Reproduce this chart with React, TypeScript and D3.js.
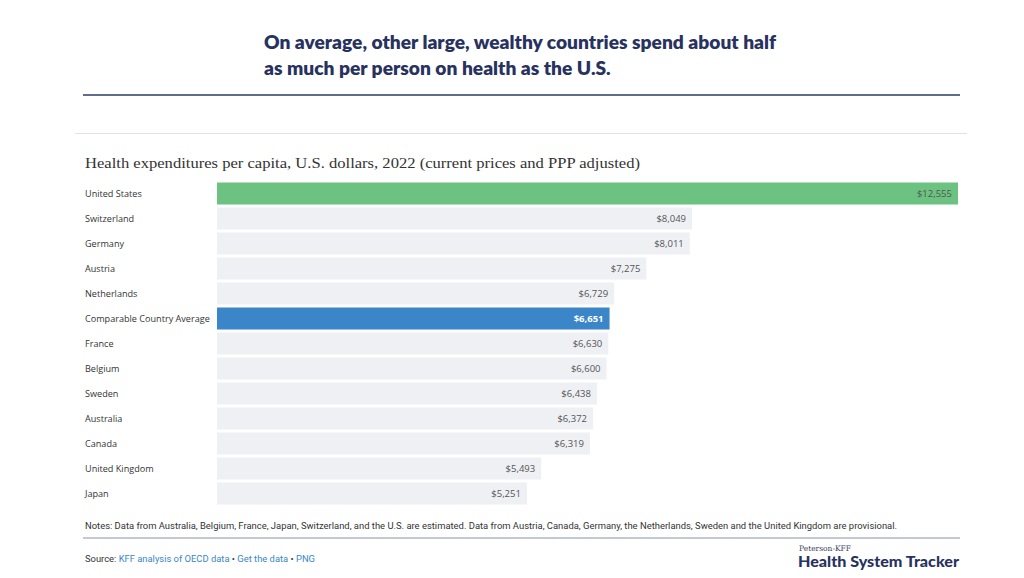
import React from "react";
import * as d3 from "d3";

const countries = [
  "United States",
  "Switzerland",
  "Germany",
  "Austria",
  "Netherlands",
  "Comparable Country Average",
  "France",
  "Belgium",
  "Sweden",
  "Australia",
  "Canada",
  "United Kingdom",
  "Japan",
];
const spending = [12555, 8049, 8011, 7275, 6729, 6651, 6630, 6600, 6438, 6372, 6319, 5493, 5251];

const titleLines = [
  "On average, other large, wealthy countries spend about half",
  "as much per person on health as the U.S.",
];
const subtitle = "Health expenditures per capita, U.S. dollars, 2022 (current prices and PPP adjusted)";
const notes =
  "Notes: Data from Australia, Belgium, France, Japan, Switzerland, and the U.S. are estimated. Data from Austria, Canada, Germany, the Netherlands, Sweden and the United Kingdom are provisional.";

export default function App() {
  const W = 1024;
  const H = 578;
  const x0 = 217;
  const x1 = 958;
  const x = d3.scaleLinear().domain([0, 12555]).range([x0, x1]);
  const y = d3.scaleBand<string>().domain(countries).range([181, 506]).paddingInner(0.12).paddingOuter(0.06);
  const fmt = d3.format("$,");
  const sans = "'Open Sans', 'Noto Sans', sans-serif";

  return (
    <svg width={W} height={H} style={{ position: "absolute", left: 0, top: 0, background: "#fff" }}>
      {titleLines.map((t, i) => (
        <text key={i} x={264} y={49 + i * 26} fontFamily="Lato, 'Open Sans', sans-serif" fontWeight={800} fontSize={19.2} fill="#28325f">
          {t}
        </text>
      ))}
      <line x1={83} x2={960} y1={95} y2={95} stroke="#2b3a67" strokeWidth={1.6} />
      <line x1={75} x2={967} y1={133.5} y2={133.5} stroke="#e2e2e2" strokeWidth={1} />
      <text x={85} y={168} fontFamily="'Liberation Serif', serif" fontSize={15.5} fill="#333" textLength={555} lengthAdjust="spacingAndGlyphs">
        {subtitle}
      </text>
      {countries.map((c, i) => {
        const v = spending[i];
        const yy = y(c)!;
        const bh = y.bandwidth();
        const fill = i === 0 ? "#6cc280" : c === "Comparable Country Average" ? "#3a86c8" : "#eef0f4";
        const isAvg = c === "Comparable Country Average";
        return (
          <g key={c}>
            <text x={85} y={yy + bh / 2} dy="0.35em" fontFamily={sans} fontSize={9.1} fill="#333">
              {c}
            </text>
            <rect x={x0} y={yy} width={x(v) - x0} height={bh} fill={fill} />
            <text
              x={x(v) - 6}
              y={yy + bh / 2}
              dy="0.35em"
              textAnchor="end"
              fontFamily={sans}
              fontSize={9.5}
              fontWeight={isAvg ? 700 : 400}
              fill={isAvg ? "#fff" : "#555"}
            >
              {fmt(v)}
            </text>
          </g>
        );
      })}
      <text x={85} y={529} fontFamily="'Liberation Sans Narrow', 'Roboto', sans-serif" fontSize={9.5} fill="#333" textLength={812} lengthAdjust="spacingAndGlyphs">
        {notes}
      </text>
      <line x1={83} x2={960} y1={538} y2={538} stroke="#8792a8" strokeWidth={1} />
      <text x={85} y={562} fontFamily="Roboto, sans-serif" fontSize={9.3} fill="#333" textLength={230} lengthAdjust="spacingAndGlyphs">
        Source:{" "}
        <tspan fill="#3a86c8">KFF analysis of OECD data</tspan>
        <tspan fill="#333"> • </tspan>
        <tspan fill="#3a86c8">Get the data</tspan>
        <tspan fill="#333"> • </tspan>
        <tspan fill="#3a86c8">PNG</tspan>
      </text>
      <text x={799} y={551} fontFamily="'DejaVu Serif', serif" fontSize={7.5} fill="#3a3f5c">
        Peterson-KFF
      </text>
      <text x={798} y={567} fontFamily="Lato, 'Open Sans', sans-serif" fontWeight={900} fontSize={15.5} fill="#28325f" textLength={161} lengthAdjust="spacingAndGlyphs">
        Health System Tracker
      </text>
    </svg>
  );
}
